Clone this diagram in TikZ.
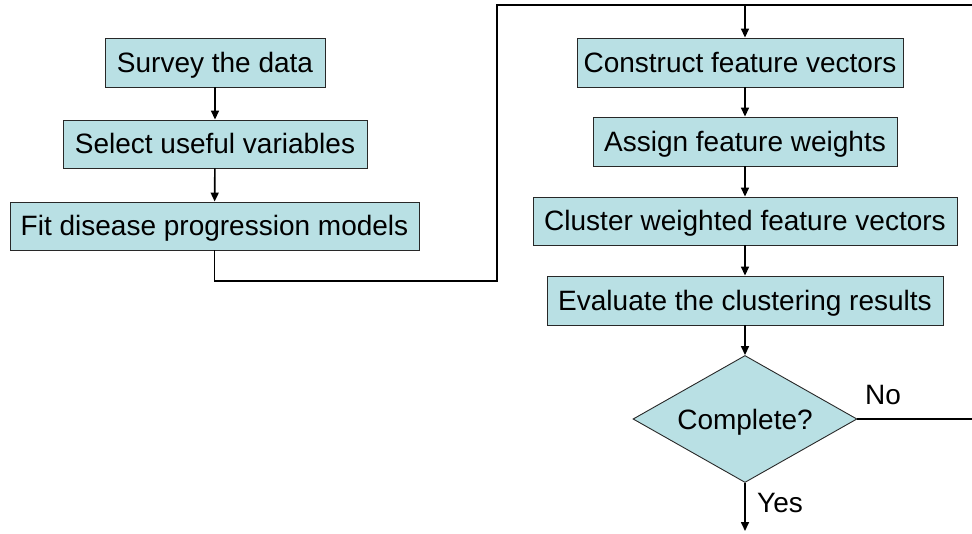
\documentclass[tikz,border=0pt]{standalone}
\usepackage{fontspec}
\setmainfont{Liberation Sans}
\usetikzlibrary{shapes.geometric,arrows.meta}
\definecolor{boxfill}{RGB}{185,224,228}
\definecolor{boxline}{RGB}{40,40,40}
\begin{document}
\begin{tikzpicture}[x=1pt,y=-1pt,
  stepbox/.style={draw=boxline, line width=0.9pt, fill=boxfill, inner sep=0pt,
    text height=20pt, text depth=1pt, font=\fontsize{28}{32}\selectfont},
  decision/.style={diamond, draw=boxline, line width=0.9pt, fill=boxfill, inner sep=0pt,
    aspect=1.76, minimum width=224pt, minimum height=127pt,
    text height=20pt, text depth=0pt, font=\fontsize{28}{32}\selectfont},
  tag/.style={inner sep=0pt, font=\fontsize{28}{32}\selectfont},
  flow/.style={line width=1.6pt},
  arr/.style={flow, -{Triangle[length=9pt,width=8pt]}}]
\useasboundingbox (0,0) rectangle (972,533);

% left column: preparation steps
\node[stepbox, minimum width=220pt, minimum height=49pt] (survey) at (215,62.5) {Survey the data};
\node[stepbox, minimum width=304pt, minimum height=48pt] (select) at (215,144) {Select useful variables};
\node[stepbox, minimum width=409pt, minimum height=48pt] (fit) at (214.5,226) {Fit disease progression models};

% right column: clustering steps
\node[stepbox, minimum width=326pt, minimum height=49pt] (construct) at (740,62.5) {Construct feature vectors};
\node[stepbox, minimum width=304pt, minimum height=49pt] (assign) at (745,141.5) {Assign feature weights};
\node[stepbox, minimum width=424pt, minimum height=48pt] (cluster) at (745,221) {Cluster weighted feature vectors};
\node[stepbox, minimum width=396pt, minimum height=49pt] (evaluate) at (745,300.5) {Evaluate the clustering results};
\node[decision] (done) at (745,419) {Complete?};

% loop-back routing points
\coordinate (bend) at (497,281);
\coordinate (topleft) at (497,5);
\coordinate (entry) at (745,5);
\coordinate (topright) at (972,5);
\coordinate (noend) at (972,419);
\coordinate (yesend) at (745,531);

% connectors
\draw[arr] (survey) -- (select);
\draw[arr] (select) -- (fit);
\draw[flow] (fit.south) |- (bend) -- (topleft) -- (topright);
\draw[arr] (entry) -- (entry |- construct.north);
\draw[arr] (construct.south -| assign) -- (assign);
\draw[arr] (assign) -- (cluster);
\draw[arr] (cluster) -- (evaluate);
\draw[arr] (evaluate) -- (done);
\draw[flow] (done.east) -- (noend);
\draw[arr] (done.south) -- (yesend);

% branch labels
\node[tag] (no) at (883,395) {No};
\node[tag] (yes) at (780,503) {Yes};
\end{tikzpicture}
\end{document}
